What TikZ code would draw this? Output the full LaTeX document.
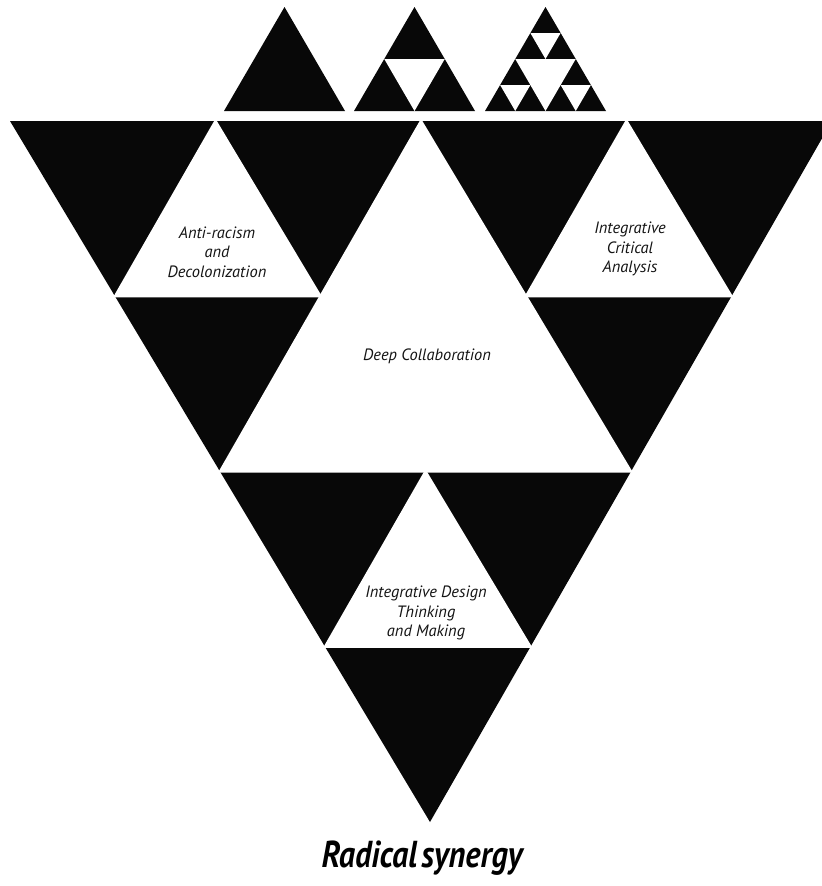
\documentclass[tikz,border=0pt]{standalone}
\usepackage{fontspec}
\setmainfont{PT Sans}
\usetikzlibrary{calc}

\begin{document}
\begin{tikzpicture}[x=0.03cm, y=-0.03cm,
  blk/.style={fill=black!97},
  hole/.style={fill=white, draw=white, line width=2pt, line join=round},
  minihole/.style={fill=white},
  lbl/.style={font=\itshape\fontsize{14}{16.5}\selectfont, align=center, text=black!92, inner sep=0pt},
  ttl/.style={font=\bfseries\itshape\fontsize{32}{32}\selectfont, inner sep=0pt, xscale=0.86, transform shape}]
\useasboundingbox[fill=white] (0,0) rectangle (822,886);
% big inverted triangle
\coordinate (A) at (10,121);
\coordinate (B) at (832,121);
\coordinate (C) at (430,822);
\coordinate (ab) at ($(A)!0.5!(B)$);
\coordinate (ac) at ($(A)!0.5!(C)$);
\coordinate (bc) at ($(B)!0.5!(C)$);
\fill[blk] (A) -- (B) -- (C) -- cycle;
\filldraw[hole] (ab) -- (ac) -- (bc) -- cycle;
\filldraw[hole] ($(A)!0.5!(ab)$) -- ($(A)!0.5!(ac)$) -- ($(ab)!0.5!(ac)$) -- cycle;
\filldraw[hole] ($(ab)!0.5!(B)$) -- ($(ab)!0.5!(bc)$) -- ($(B)!0.5!(bc)$) -- cycle;
\filldraw[hole] ($(ac)!0.5!(bc)$) -- ($(ac)!0.5!(C)$) -- ($(bc)!0.5!(C)$) -- cycle;
% small triangles on top
\foreach \x in {224,354,485}
  \fill[blk] (\x,111) -- (\x+121,111) -- (\x+60.5,7) -- cycle;
\fill[minihole] (384.25,59) -- (444.75,59) -- (414.5,111) -- cycle;
\fill[minihole] (515.25,59) -- (575.75,59) -- (545.5,111) -- cycle;
\foreach \dx/\dy in {0/0, 60.5/0, 30.25/-52}
  \fill[minihole] (485+15.125+\dx,85+\dy) -- (485+45.375+\dx,85+\dy) -- (485+30.25+\dx,111+\dy) -- cycle;
% labels
\node[lbl] (antiracism) at (217,252) {Anti-racism\\and\\Decolonization};
\node[lbl] (critical) at (630,249) {Integrative\\Critical\\Analysis};
\node[lbl] (collab) at (427,356) {Deep Collaboration};
\node[lbl] (design) at (426,613) {Integrative Design\\Thinking\\and Making};
\node[ttl] (title) at (422,858) {Radical\hspace{-0.12em} synergy};
\end{tikzpicture}
\end{document}
